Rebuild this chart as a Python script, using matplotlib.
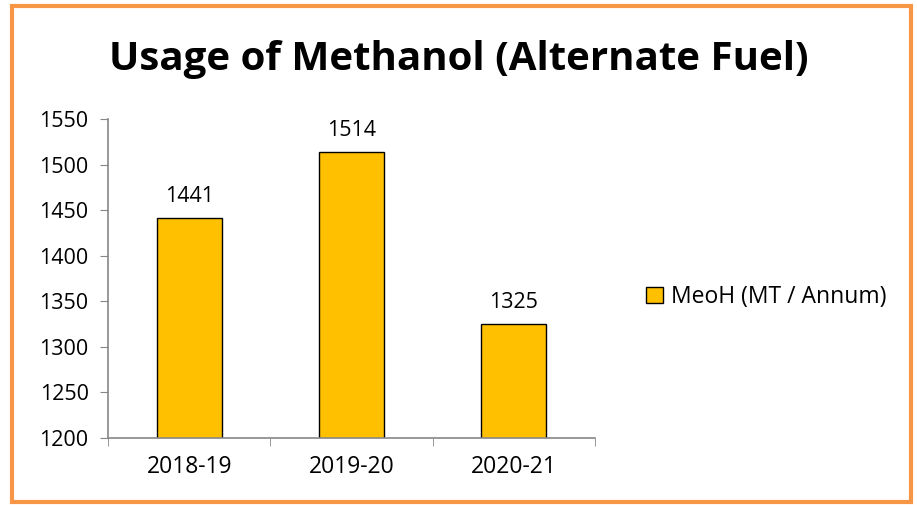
import matplotlib.pyplot as plt
from matplotlib.patches import Rectangle

# Datos ----------------------------->>>>>
anos = ['2018-19', '2019-20', '2020-21']
meoh = [1441, 1514, 1325]
yticks = [1200, 1250, 1300, 1350, 1400, 1450, 1500, 1550]
serie = 'MeoH (MT / Annum)'

plt.rcParams['font.family'] = ['Open Sans', 'DejaVu Sans']

fig = plt.figure(figsize=(9.17, 5.05), dpi=100)
ax = fig.add_axes([0.1178, 0.1327, 0.5311, 0.6317])

# Barras
x = range(len(anos))
barras = ax.bar(x, meoh, width=0.4, color='#FFC000', edgecolor='black',
                linewidth=1.0, label=serie)
for xi, v in zip(x, meoh):
    ax.text(xi, v + 12, str(v), ha='center', va='bottom', fontsize=15.5)

ax.set_ylim(1200, 1550)
ax.set_xlim(-0.5, len(anos) - 0.5)
ax.set_yticks(yticks)
ax.set_xticks(list(x))
ax.set_xticklabels(anos)
ax.set_xticks([-0.5, 0.5, 1.5, 2.5], minor=True)

# Ejes
for s in ['top', 'right']:
    ax.spines[s].set_visible(False)
for s in ['left', 'bottom']:
    ax.spines[s].set_color('#868686')
    ax.spines[s].set_linewidth(1.2)
ax.tick_params(axis='y', length=6, color='#868686', labelsize=15.5, pad=8)
ax.tick_params(axis='x', which='major', length=0, labelsize=16.5, pad=12)
ax.tick_params(axis='x', which='minor', length=6, color='#868686')

# Titulo
fig.text(0.5, 0.861, 'Usage of Methanol (Alternate Fuel)', ha='center',
         va='baseline', fontsize=29, fontweight='bold')

# Leyenda
fig.legend(handles=[barras], loc='center left', bbox_to_anchor=(0.682, 0.412),
           frameon=False, fontsize=16.5, handlelength=0.75, handleheight=0.75,
           handletextpad=0.35)

# Marco naranja
fig.patches.append(Rectangle((0.013, 0.006), 0.98, 0.983, transform=fig.transFigure,
                             fill=False, edgecolor='#F79646', linewidth=3))

plt.savefig('out.png', dpi=100)
